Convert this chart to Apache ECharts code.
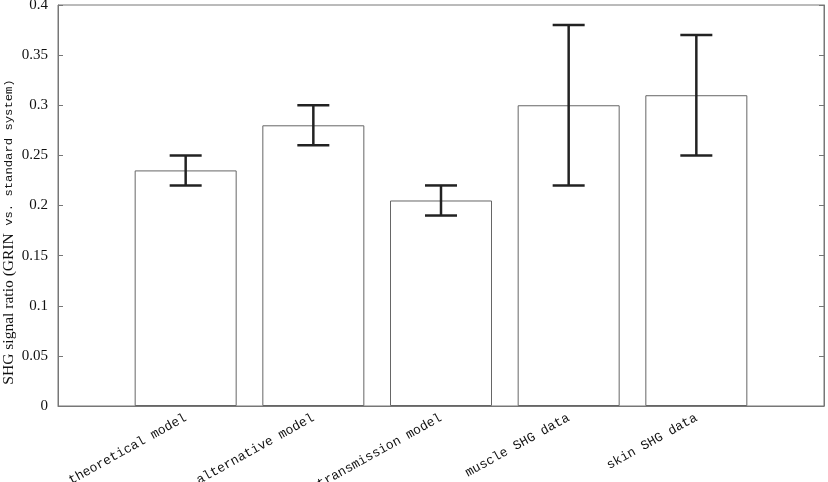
<!DOCTYPE html>
<html><head><meta charset="utf-8">
<script src="https://cdn.jsdelivr.net/npm/echarts@6/dist/echarts.min.js"></script>
<style>html,body{margin:0;padding:0;background:#fff}#c{width:828px;height:482px}</style>
</head><body><div id="c"></div>
<script>
var categories = ['theoretical model','alternative model','transmission model','muscle SHG data','skin SHG data'];
var values = [0.235, 0.28, 0.205, 0.30, 0.31];
var errLow = [0.22, 0.26, 0.19, 0.22, 0.25];
var errHigh = [0.25, 0.30, 0.22, 0.38, 0.37];
var yTicks = [0, 0.05, 0.1, 0.15, 0.2, 0.25, 0.3, 0.35, 0.4];
var yTitleA = 'SHG signal ratio (GRIN';
var yTitleB = ' vs. standard system)';

var barData = values.map(function(v,i){return [i+1, v];});
var errData = values.map(function(v,i){return [i+1, errLow[i], errHigh[i]];});

var chart = echarts.init(document.getElementById('c'));
chart.setOption({
  animation:false,
  backgroundColor:'#fff',
  grid:{left:58,right:4,top:5,bottom:76,show:true,borderColor:'#777',borderWidth:1,
    containLabel:false,outerBoundsMode:'none'},
  xAxis:{type:'value',min:0,max:categories.length+1,interval:1,
    axisLine:{show:true,lineStyle:{color:'#777',width:1}},
    axisTick:{show:false},splitLine:{show:false},
    axisLabel:{rotate:29,margin:11,fontFamily:'Liberation Mono',fontSize:13,color:'#111',
      formatter:function(v){var i=Math.round(v)-1;return (i>=0&&i<categories.length)?categories[i]:'';}}
  },
  yAxis:[{type:'value',min:yTicks[0],max:yTicks[yTicks.length-1],interval:0.05,
    axisLine:{show:true,lineStyle:{color:'#777'}},
    axisTick:{show:true,inside:true,length:5,lineStyle:{color:'#777'}},
    splitLine:{show:false},
    axisLabel:{fontFamily:'Liberation Serif',fontSize:15,color:'#111',margin:10,
      formatter:function(v){return String(+v.toFixed(2));}}
  },{type:'value',min:yTicks[0],max:yTicks[yTicks.length-1],interval:0.05,position:'right',
    axisLine:{show:true,lineStyle:{color:'#777'}},
    axisTick:{show:true,inside:true,length:5,lineStyle:{color:'#777'}},
    axisLabel:{show:false},splitLine:{show:false}}],
  graphic:[{type:'text',x:9,y:232,rotation:Math.PI/2,scaleX:1.11,scaleY:1,
    style:{text:'{a|'+yTitleA+'}{b|'+yTitleB+'}',align:'center',verticalAlign:'middle',
      rich:{a:{fontFamily:'Liberation Serif',fontSize:14,fill:'#111',verticalAlign:'middle'},
            b:{fontFamily:'Liberation Mono',fontSize:11,fill:'#111',verticalAlign:'middle'}}}}],
  series:[{type:'bar',data:barData,barWidth:102,
    itemStyle:{color:'#fff',borderColor:'#666',borderWidth:1}},
  {type:'custom',data:errData,z:10,
    renderItem:function(params,api){
      var x=api.value(0);
      var lo=api.coord([x,api.value(1)]);
      var hi=api.coord([x,api.value(2)]);
      var hw=16;
      var st={stroke:'#222',lineWidth:2.5};
      return {type:'group',children:[
        {type:'line',shape:{x1:lo[0],y1:lo[1],x2:hi[0],y2:hi[1]},style:st},
        {type:'line',shape:{x1:lo[0]-hw,y1:lo[1],x2:lo[0]+hw,y2:lo[1]},style:st},
        {type:'line',shape:{x1:hi[0]-hw,y1:hi[1],x2:hi[0]+hw,y2:hi[1]},style:st}
      ]};
    }}]
});
</script></body></html>
